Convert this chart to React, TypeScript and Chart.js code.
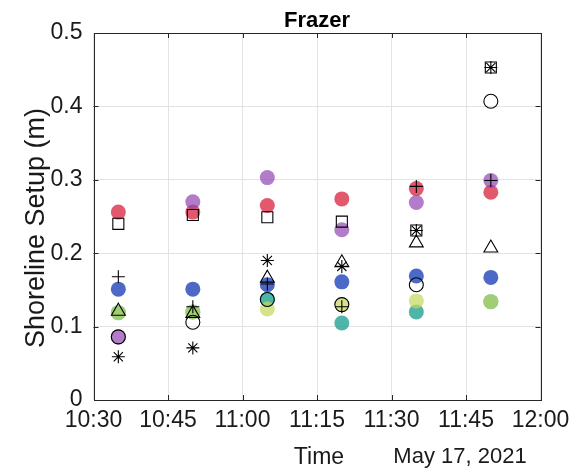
import React, { useEffect, useRef } from "react";
import { Chart, registerables } from "chart.js";

Chart.register(...registerables);

// ---- Data ----
const times = ["10:35", "10:50", "11:05", "11:20", "11:35", "11:50"];
const xTickLabels = ["10:30", "10:45", "11:00", "11:15", "11:30", "11:45", "12:00"];
const yTickLabels = ["0", "0.1", "0.2", "0.3", "0.4", "0.5"];

// coloured (filled, translucent) series
const redVals = [0.256, 0.256, 0.265, 0.274, 0.288, 0.283];
const purpleVals = [0.086, 0.27, 0.303, 0.232, 0.269, 0.299];
const blueVals = [0.151, 0.151, 0.157, 0.161, 0.169, 0.167];
const tealVals = [0.119, 0.12, 0.137, 0.105, 0.12, 0.134];
const yellowVals = [0.119, 0.12, 0.124, 0.13, 0.135, 0.134];

// black open-marker series
const squareVals = [0.24, 0.252, 0.249, 0.243, 0.231, 0.453];
const plusVals = [0.168, 0.127, 0.158, 0.127, 0.291, 0.299];
const triangleVals = [0.121, 0.118, 0.166, 0.187, 0.214, 0.207];
const circleVals = [0.086, 0.106, 0.137, 0.13, 0.157, 0.407];
const asteriskVals = [0.059, 0.071, 0.19, 0.182, 0.231, 0.453];

const titleText = "Frazer";
const xTitle = "Time";
const dateText = "May 17, 2021";
const yTitle = "Shoreline Setup (m)";

const FONT = "'Liberation Sans', Arial, Helvetica, sans-serif";
const TXT = "#1a1a1a";

const toMin = (t: string) => {
  const [h, m] = t.split(":").map(Number);
  return h * 60 + m - (10 * 60 + 30);
};

const pts = (vals: number[]) => vals.map((v, i) => ({ x: toMin(times[i]), y: v }));

const filled = (label: string, vals: number[], color: string, order: number) => ({
  label,
  data: pts(vals),
  pointStyle: "circle",
  pointRadius: 7.5,
  pointBackgroundColor: color,
  pointBorderWidth: 0,
  pointBorderColor: "rgba(0,0,0,0)",
  showLine: false,
  order,
});

const open = (label: string, vals: number[], style: string, radius: number, order: number) => ({
  label,
  data: pts(vals),
  pointStyle: style,
  pointRadius: radius,
  pointBackgroundColor: "rgba(0,0,0,0)",
  pointBorderColor: "#000000",
  pointBorderWidth: 1.1,
  showLine: false,
  order,
});

const framePlugin = {
  id: "frame",
  beforeDatasetsDraw(chart: any) {
    const { ctx, chartArea: a, scales } = chart;
    ctx.save();
    ctx.strokeStyle = "#262626";
    ctx.lineWidth = 1;
    ctx.strokeRect(Math.round(a.left) + 0.5, Math.round(a.top) + 0.5, Math.round(a.right - a.left), Math.round(a.bottom - a.top));
    const tl = 5;
    ctx.beginPath();
    for (let v = 15; v < 90; v += 15) {
      const x = Math.round(scales.x.getPixelForValue(v)) + 0.5;
      ctx.moveTo(x, a.bottom);
      ctx.lineTo(x, a.bottom - tl);
      ctx.moveTo(x, a.top);
      ctx.lineTo(x, a.top + tl);
    }
    for (let v = 1; v < 5; v++) {
      const y = Math.round(scales.y.getPixelForValue(v / 10)) + 0.5;
      ctx.moveTo(a.left, y);
      ctx.lineTo(a.left + tl, y);
      ctx.moveTo(a.right, y);
      ctx.lineTo(a.right - tl, y);
    }
    ctx.stroke();
    ctx.restore();
  },
  afterDraw(chart: any) {
    const { ctx, chartArea: a } = chart;
    ctx.save();
    ctx.fillStyle = "#000";
    ctx.textAlign = "center";
    ctx.textBaseline = "middle";
    ctx.font = `bold 22px ${FONT}`;
    ctx.fillText(titleText, (a.left + a.right) / 2, 21);
    ctx.fillStyle = TXT;
    ctx.font = `23px ${FONT}`;
    ctx.fillText(xTitle, (a.left + a.right) / 2 + 2, 458);
    ctx.font = `22px ${FONT}`;
    ctx.fillText(dateText, 460, 457);
    ctx.font = `27px ${FONT}`;
    ctx.translate(37, 228);
    ctx.rotate(-Math.PI / 2);
    ctx.fillText(yTitle, 0, 0);
    ctx.restore();
  },
};

export default function App() {
  const ref = useRef<HTMLCanvasElement | null>(null);
  useEffect(() => {
    if (!ref.current) return;
    const chart = new Chart(ref.current, {
      type: "scatter",
      data: {
        datasets: [
          open("square", squareVals, "rect", 7.8, 0),
          open("plus", plusVals, "cross", 6.5, 0),
          open("triangle", triangleVals, "triangle", 8, 0),
          open("circle", circleVals, "circle", 7, 0),
          open("asterisk", asteriskVals, "star", 6.5, 0),
          filled("yellow", yellowVals, "rgba(196,215,92,0.7)", 1),
          filled("teal", tealVals, "rgba(4,149,132,0.7)", 2),
          filled("blue", blueVals, "rgba(0,41,176,0.7)", 3),
          filled("purple", purpleVals, "rgba(145,68,176,0.7)", 4),
          filled("red", redVals, "rgba(213,18,48,0.7)", 5),
        ] as any,
      },
      options: {
        responsive: false,
        animation: false,
        layout: { padding: { top: 33, right: 40.5, left: 0, bottom: 0 } },
        plugins: { legend: { display: false }, tooltip: { enabled: false }, title: { display: false } },
        scales: {
          x: {
            type: "linear",
            min: 0,
            max: 90,
            afterFit: (s: any) => {
              s.height = 71;
            },
            afterBuildTicks: (s: any) => {
              s.ticks = xTickLabels.map((_, i) => ({ value: i * 15 }));
            },
            ticks: {
              autoSkip: false,
              maxRotation: 0,
              padding: 7,
              color: TXT,
              font: { family: FONT, size: 23 },
              callback: (_v: any, i: number) => xTickLabels[i],
            },
            grid: { color: "#e3e3e3", drawTicks: false, lineWidth: 1 },
            border: { display: false },
          },
          y: {
            type: "linear",
            min: 0,
            max: 0.5,
            afterFit: (s: any) => {
              s.width = 93.5;
            },
            afterBuildTicks: (s: any) => {
              s.ticks = yTickLabels.map((_, i) => ({ value: i / 10 }));
            },
            ticks: {
              padding: 11,
              color: TXT,
              font: { family: FONT, size: 23 },
              callback: (_v: any, i: number) => yTickLabels[i],
            },
            grid: { color: "#e3e3e3", drawTicks: false, lineWidth: 1 },
            border: { display: false },
          },
        },
      },
      plugins: [framePlugin],
    });
    return () => chart.destroy();
  }, []);
  return (
    <div style={{ position: "fixed", left: 0, top: 0, width: 581, height: 471, background: "#fff" }}>
      <canvas ref={ref} width={581} height={471} />
    </div>
  );
}
